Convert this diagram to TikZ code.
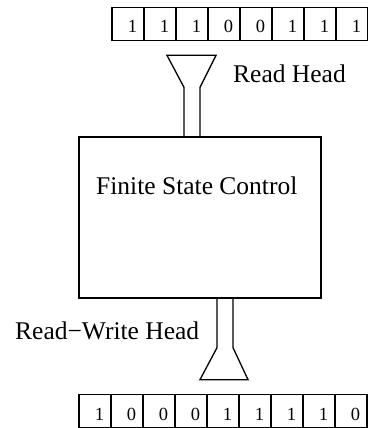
\documentclass[tikz,border=0pt]{standalone}
\usepackage{fontspec}
\setmainfont{Liberation Serif}
\usetikzlibrary{positioning}

\tikzset{
  cell/.style={draw=black, line width=1.3pt, outer sep=0pt, minimum width=32pt, minimum height=33pt,
    inner sep=0pt, text width=18pt, align=right, text height=18pt, text depth=0pt,
    font=\fontsize{18.5}{20}\selectfont},
  head/.style={draw=black, line width=1.3pt, line join=miter},
  lbl/.style={inner sep=0pt, font=\fontsize{25.5}{30}\selectfont}
}

\begin{document}
\begin{tikzpicture}[x=1pt, y=-1pt]
            \useasboundingbox (0,0) rectangle (367,428);

            % input tape
            \node[cell] (in1) at (128, 24) {1};
            \foreach \d [count=\i from 2, evaluate=\i as \j using int(\i-1)] in {1, 1, 0, 0, 1, 1, 1}
                \node[cell, right=0pt of in\j] (in\i) {\d};

            % work tape
            \node[cell] (wt1) at (95, 411) {1};
            \foreach \d [count=\i from 2, evaluate=\i as \j using int(\i-1)] in {0, 0, 0, 1, 1, 1, 1, 0}
                \node[cell, right=0pt of wt\j] (wt\i) {\d};

            \node[draw=black, line width=1.3pt, minimum width=242pt, minimum height=161pt] (fsc) at (200, 217.5) {};
            \node[lbl, anchor=base west] (fsclbl) at (96, 194) {Finite State Control};

            % heads
            \draw[head] ([xshift=-16pt]fsc.north) -- ++(0,-49) -- ++(-17,-32) -- ++(49,0) -- ++(-16,32) -- ++(0,49);
            \draw[head] ([xshift=17pt]fsc.south) -- ++(0,49) -- ++(-17,32) -- ++(48,0) -- ++(-15,-32) -- ++(0,-49);

            \node[lbl, anchor=base west] (rdlbl) at (233, 82) {Read Head};
            \node[lbl, anchor=base west] (rwlbl) at (15, 339) {Read−Write Head};
        \end{tikzpicture}
\end{document}
